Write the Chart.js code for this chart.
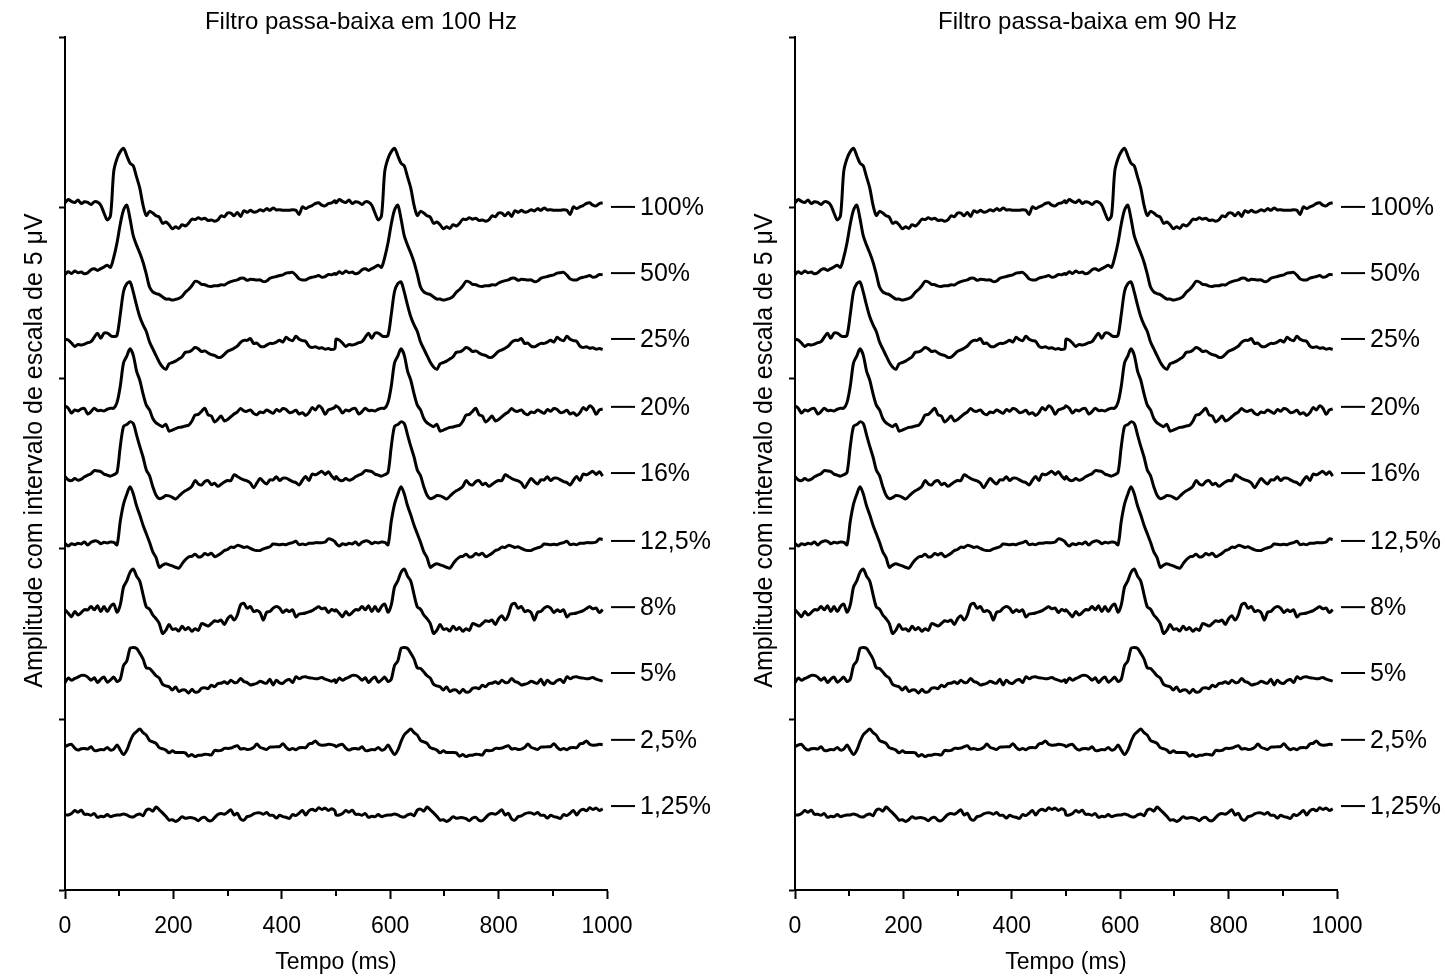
<!DOCTYPE html>
<html>
<head>
<meta charset="utf-8">
<script src="https://cdn.jsdelivr.net/npm/chart.js@4.4.1/dist/chart.umd.min.js"></script>
<style>
html,body{margin:0;padding:0;background:#fff;overflow:hidden;width:1445px;height:980px}
canvas{position:absolute;top:0}
</style>
</head>
<body>
<canvas id="c1" width="722" height="980" style="left:0;width:722px;height:980px"></canvas>
<canvas id="c2" width="715" height="980" style="left:730px;width:715px;height:980px"></canvas>
<script>
// ---------------- data ----------------
const panelTitles = ['Filtro passa-baixa em 100 Hz', 'Filtro passa-baixa em 90 Hz'];
const xTitle = 'Tempo (ms)';
const yTitle = 'Amplitude com intervalo de escala de 5 \u03bcV';
const traceLabels = ['100%', '50%', '25%', '20%', '16%', '12,5%', '8%', '5%', '2,5%', '1,25%'];
// vertical position (µV) of each trace's baseline and of each label dash
const offsets = [20.13, 18.12, 16.02, 14.07, 12.07, 10.16, 8.16, 6.18, 4.20, 2.20];
const labelLevels = [20.02, 18.08, 16.15, 14.16, 12.22, 10.23, 8.29, 6.36, 4.40, 2.46];
const xTickValues = [0, 200, 400, 600, 800, 1000];
const xMinorTicks = [100, 300, 500, 700, 900];
// one stimulus period (0-498 ms); the recording shows the same period twice
const periodMs = 500;
const lastMs = 992;
const timeMs = [0,6,12,18,24,30,36,42,48,54,60,66,72,78,84,90,96,102,108,114,120,126,132,138,144,150,156,162,168,174,180,186,192,198,204,210,216,222,228,234,240,246,252,258,264,270,276,282,288,294,300,306,312,318,324,330,336,342,348,354,360,366,372,378,384,390,396,402,408,414,420,426,432,438,444,450,456,462,468,474,480,486,492,498];

const amp100 = [0.01,0.11,0.05,0.02,0.09,-0.01,0.04,0.02,-0.04,0.04,0.03,-0.06,-0.29,-0.49,-0.36,0.94,1.31,1.51,1.61,1.39,1.17,1.09,0.77,0.44,-0.06,-0.36,-0.24,-0.29,-0.37,-0.41,-0.59,-0.55,-0.63,-0.75,-0.69,-0.74,-0.63,-0.67,-0.59,-0.47,-0.48,-0.43,-0.47,-0.44,-0.51,-0.49,-0.53,-0.49,-0.37,-0.40,-0.29,-0.29,-0.37,-0.27,-0.39,-0.22,-0.27,-0.21,-0.26,-0.25,-0.19,-0.23,-0.16,-0.21,-0.14,-0.20,-0.19,-0.21,-0.21,-0.21,-0.19,-0.21,-0.33,-0.11,-0.16,-0.11,-0.07,-0.01,0.01,-0.06,-0.08,-0.01,0.01,0.07];
const amp50 = [-0.08,0.00,-0.05,0.02,-0.03,-0.01,-0.06,-0.03,0.06,0.09,0.04,0.09,0.14,0.19,0.13,0.43,0.85,1.40,1.81,1.95,1.55,1.05,0.78,0.55,0.28,-0.07,-0.45,-0.59,-0.64,-0.67,-0.74,-0.80,-0.80,-0.83,-0.81,-0.78,-0.72,-0.60,-0.52,-0.41,-0.28,-0.30,-0.37,-0.38,-0.42,-0.43,-0.41,-0.41,-0.38,-0.39,-0.33,-0.29,-0.26,-0.24,-0.19,-0.19,-0.25,-0.22,-0.23,-0.24,-0.24,-0.29,-0.27,-0.19,-0.16,-0.14,-0.11,-0.09,-0.04,-0.03,-0.02,-0.10,-0.21,-0.24,-0.24,-0.19,-0.16,-0.14,-0.11,-0.16,-0.14,-0.08,-0.09,-0.05];
const amp25 = [0.12,0.10,0.01,-0.09,-0.03,-0.05,-0.02,0.02,0.05,0.18,0.30,0.15,0.30,0.30,0.23,0.20,0.24,0.85,1.52,1.75,1.80,1.50,1.12,0.78,0.54,0.35,0.04,-0.16,-0.36,-0.55,-0.69,-0.76,-0.60,-0.56,-0.52,-0.46,-0.39,-0.26,-0.25,-0.20,-0.12,-0.16,-0.24,-0.22,-0.28,-0.33,-0.35,-0.41,-0.40,-0.32,-0.23,-0.19,-0.14,-0.08,0.03,0.09,0.09,0.14,0.00,0.01,-0.08,-0.10,-0.05,0.00,0.00,0.04,0.09,0.04,0.18,0.11,0.08,0.21,0.12,0.08,0.06,-0.08,-0.12,-0.10,-0.14,-0.13,-0.17,-0.15,-0.18,-0.15];
const amp20 = [0.12,0.05,-0.09,0.00,-0.03,0.03,0.04,-0.12,-0.05,0.05,-0.02,-0.01,-0.03,0.02,0.05,0.05,0.22,0.70,1.38,1.58,1.79,1.60,1.14,0.87,0.47,0.14,0.00,-0.25,-0.38,-0.44,-0.49,-0.42,-0.62,-0.59,-0.55,-0.51,-0.50,-0.47,-0.45,-0.33,-0.15,-0.13,-0.04,0.05,-0.14,-0.18,-0.35,-0.28,-0.18,-0.32,-0.28,-0.20,-0.12,-0.06,0.04,-0.03,-0.04,0.00,-0.10,-0.14,-0.06,-0.08,0.00,-0.05,-0.10,0.01,-0.04,0.04,0.01,-0.08,-0.06,-0.01,-0.12,-0.08,-0.16,-0.08,0.07,0.00,0.12,0.05,-0.13,0.00,0.03,0.08];
const amp16 = [0.05,-0.05,-0.07,-0.01,-0.06,-0.03,0.04,0.09,0.13,0.22,0.21,0.19,0.12,0.09,0.06,0.10,0.17,0.93,1.52,1.57,1.65,1.60,1.27,0.93,0.62,0.24,0.07,-0.25,-0.50,-0.60,-0.57,-0.51,-0.52,-0.56,-0.61,-0.53,-0.44,-0.37,-0.32,-0.24,-0.07,-0.17,-0.20,-0.10,-0.07,-0.19,-0.15,-0.24,-0.18,-0.11,-0.07,-0.07,0.10,0.05,-0.01,-0.05,-0.08,-0.14,-0.28,-0.14,-0.01,-0.10,-0.17,-0.05,-0.05,0.04,-0.07,0.00,0.00,-0.05,-0.10,-0.13,-0.20,-0.06,0.05,-0.07,0.12,0.10,0.15,0.20,0.11,0.19,0.06,-0.03];
const amp12_5 = [0.00,-0.08,-0.01,-0.04,0.00,-0.02,0.04,-0.05,0.03,0.07,0.06,-0.01,0.03,0.01,0.04,0.03,-0.04,0.65,1.15,1.44,1.66,1.45,1.10,0.83,0.53,0.28,0.03,-0.25,-0.42,-0.70,-0.64,-0.60,-0.63,-0.66,-0.70,-0.73,-0.60,-0.48,-0.40,-0.38,-0.32,-0.40,-0.38,-0.30,-0.34,-0.29,-0.39,-0.35,-0.29,-0.21,-0.18,-0.11,-0.12,-0.06,-0.08,-0.12,-0.10,-0.15,-0.19,-0.21,-0.21,-0.16,-0.13,-0.10,-0.02,-0.03,-0.04,-0.03,-0.04,0.00,0.02,0.06,-0.04,-0.02,-0.04,0.00,0.00,0.02,0.02,0.02,0.04,0.13,0.11,0.05];
const amp8 = [0.05,-0.05,-0.15,0.00,-0.10,-0.03,0.06,0.05,0.15,0.05,0.17,0.00,0.15,0.00,0.15,0.22,-0.02,0.20,0.72,0.90,1.15,1.25,1.04,0.89,0.50,0.14,0.07,-0.10,-0.21,-0.35,-0.64,-0.55,-0.38,-0.52,-0.50,-0.57,-0.43,-0.53,-0.47,-0.58,-0.50,-0.55,-0.35,-0.38,-0.42,-0.35,-0.27,-0.29,-0.25,-0.38,-0.21,-0.12,-0.25,-0.10,0.20,0.24,0.10,0.15,0.00,0.03,-0.03,-0.25,-0.02,0.00,0.10,0.15,0.10,-0.03,0.05,0.00,0.05,-0.16,-0.07,-0.06,-0.04,-0.01,0.03,0.09,0.14,0.08,0.10,-0.03,0.06,0.02];
const amp5 = [-0.10,0.03,-0.03,0.02,0.06,0.11,0.11,0.06,-0.03,0.04,-0.10,0.00,0.06,-0.09,-0.02,0.06,-0.07,0.00,0.40,0.53,0.90,0.93,0.90,0.76,0.59,0.33,0.31,0.21,0.10,0.03,-0.15,-0.20,-0.22,-0.32,-0.23,-0.36,-0.32,-0.32,-0.41,-0.30,-0.38,-0.37,-0.27,-0.25,-0.28,-0.18,-0.22,-0.13,-0.12,-0.08,-0.13,-0.03,-0.10,-0.09,0.02,-0.07,-0.10,-0.17,-0.15,-0.12,-0.06,-0.10,-0.12,0.00,-0.17,-0.03,-0.11,-0.12,-0.04,-0.01,-0.10,0.07,0.01,0.06,0.07,0.04,0.03,0.01,0.02,0.05,0.00,-0.03,-0.06,-0.02];
const amp2_5 = [0.00,0.05,0.07,-0.04,-0.10,-0.06,-0.05,-0.07,0.00,-0.11,-0.11,-0.08,-0.09,-0.02,-0.10,-0.07,0.05,-0.10,-0.23,-0.10,0.15,0.35,0.44,0.52,0.41,0.34,0.18,0.14,0.10,-0.03,-0.06,-0.10,-0.18,-0.12,-0.17,-0.17,-0.17,-0.18,-0.28,-0.23,-0.29,-0.25,-0.25,-0.22,-0.23,-0.24,-0.11,-0.12,-0.11,-0.05,-0.05,-0.04,0.00,0.03,-0.07,-0.05,-0.08,-0.07,-0.02,0.08,-0.02,-0.05,-0.08,-0.01,-0.01,0.00,0.00,0.09,-0.02,-0.09,-0.05,-0.09,-0.03,-0.02,-0.03,0.08,0.10,0.17,0.07,0.04,0.05,0.07,0.06,0.03];
const amp1_25 = [0.00,0.00,0.04,0.13,0.08,0.14,0.02,0.02,-0.01,0.04,-0.07,-0.04,-0.05,0.01,-0.05,-0.02,0.00,0.00,0.03,0.00,-0.05,-0.06,0.00,0.03,-0.02,0.14,0.17,0.11,0.23,0.15,0.06,-0.04,-0.15,-0.14,-0.19,-0.14,-0.05,-0.10,-0.08,-0.08,-0.11,-0.17,-0.09,-0.07,-0.16,-0.17,-0.08,0.01,0.04,0.02,0.08,0.15,0.00,0.05,-0.12,-0.15,-0.05,-0.03,0.03,0.06,0.06,0.02,0.07,-0.01,-0.01,-0.09,-0.01,-0.05,-0.07,-0.10,0.01,-0.02,0.05,0.13,0.00,0.12,0.17,0.12,0.21,0.16,0.20,0.13,0.18,0.12];
const traceAmps = [amp100, amp50, amp25, amp20, amp16, amp12_5, amp8, amp5, amp2_5, amp1_25];

// ---------------- drawing ----------------
const FONT = "'Liberation Sans', Arial, Helvetica, sans-serif";
Chart.defaults.font.family = FONT;
Chart.defaults.color = '#000';

function buildSeries(amp, offset) {
  const pts = [];
  [0, 1].forEach(p => {
    timeMs.forEach((t, k) => {
      const x = t + p * periodMs;
      if (x <= lastMs) pts.push({ x: x, y: offset + amp[k] });
    });
  });
  return pts;
}

const decorPlugin = {
  id: 'decor',
  afterDraw(chart, args, opts) {
    const { ctx, chartArea, scales } = chart;
    ctx.save();
    ctx.fillStyle = '#000';
    ctx.strokeStyle = '#000';
    // panel title
    ctx.font = '24px ' + FONT;
    ctx.textAlign = 'center';
    ctx.textBaseline = 'middle';
    ctx.fillText(opts.title, chart.width / 2, 22);
    // y axis title
    ctx.save();
    ctx.translate(35, (chartArea.top + chartArea.bottom) / 2 - 13);
    ctx.rotate(-Math.PI / 2);
    ctx.font = '25px ' + FONT;
    ctx.fillText(yTitle, 0, 0);
    ctx.restore();
    // minor x ticks
    ctx.lineWidth = 2;
    xMinorTicks.forEach(v => {
      const px = Math.round(scales.x.getPixelForValue(v));
      ctx.beginPath();
      ctx.moveTo(px, chartArea.bottom);
      ctx.lineTo(px, chartArea.bottom + 6);
      ctx.stroke();
    });
    // trace labels
    ctx.font = '25px ' + FONT;
    ctx.textAlign = 'left';
    traceLabels.forEach((lab, i) => {
      const py = scales.y.getPixelForValue(labelLevels[i]);
      ctx.beginPath();
      ctx.moveTo(chartArea.right + 4, py);
      ctx.lineTo(chartArea.right + 28, py);
      ctx.stroke();
      ctx.fillText(lab, chartArea.right + 33, py + 1);
    });
    ctx.restore();
  }
};

function makeChart(id, title, rightPad) {
  const datasets = traceAmps.map((amp, i) => ({
    label: traceLabels[i],
    data: buildSeries(amp, offsets[i]),
    borderColor: '#000',
    borderWidth: 3,
    pointRadius: 0,
    tension: 0.3,
    fill: false
  }));
  return new Chart(document.getElementById(id), {
    type: 'line',
    data: { datasets: datasets },
    options: {
      responsive: false,
      devicePixelRatio: 1,
      animation: false,
      events: [],
      layout: { padding: { left: 0, top: 37, right: rightPad, bottom: 0 } },
      plugins: {
        legend: { display: false },
        title: { display: false },
        tooltip: { enabled: false },
        decor: { title: title }
      },
      scales: {
        x: {
          type: 'linear',
          min: 0,
          max: 1000,
          afterBuildTicks: s => { s.ticks = xTickValues.map(v => ({ value: v })); },
          ticks: { font: { size: 23 }, color: '#000', padding: 14, maxRotation: 0, autoSkip: false, callback: v => String(v) },
          grid: { display: true, drawOnChartArea: false, drawTicks: true, tickLength: 9, tickWidth: 2, tickColor: '#000' },
          border: { display: true, color: '#000', width: 2 },
          title: { display: true, text: xTitle, color: '#000', font: { size: 23 }, padding: { top: 0, bottom: 4 } },
          afterFit: s => { s.height = 90; }
        },
        y: {
          type: 'linear',
          min: 0,
          max: 25,
          ticks: { stepSize: 5, display: false },
          grid: { display: true, drawOnChartArea: false, drawTicks: true, tickLength: 6, tickWidth: 2, tickColor: '#000' },
          border: { display: true, color: '#000', width: 2 },
          afterFit: s => { s.width = 65; }
        }
      }
    },
    plugins: [decorPlugin]
  });
}

makeChart('c1', panelTitles[0], 115);
makeChart('c2', panelTitles[1], 108);
</script>
</body>
</html>
